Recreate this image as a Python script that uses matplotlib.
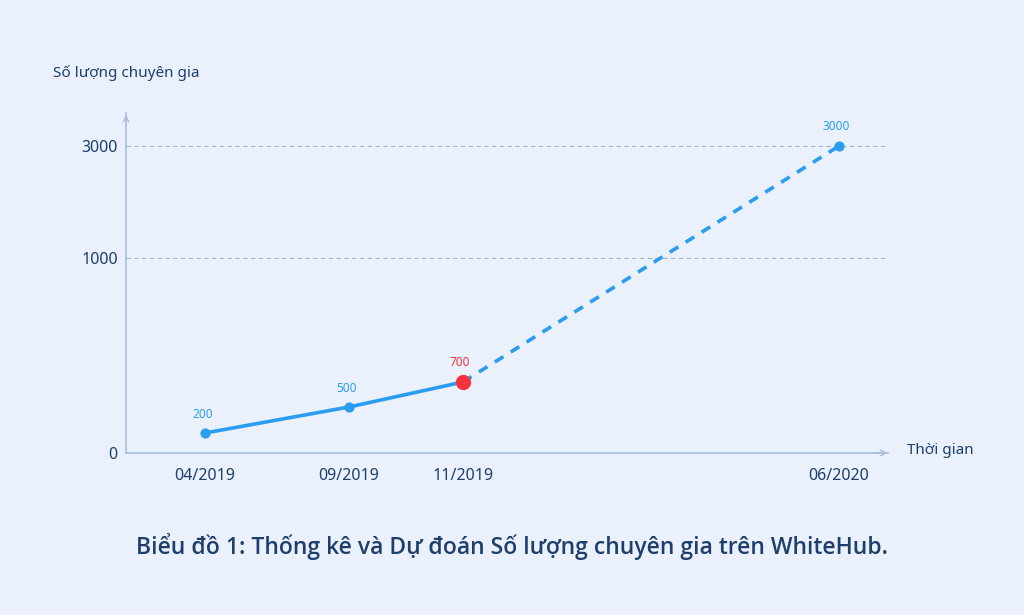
import matplotlib

matplotlib.use("Agg")

import matplotlib.pyplot as plt
import numpy as np

# data
periods = ["04/2019", "09/2019", "11/2019", "06/2020"]
experts = [200, 500, 700, 3000]
y_ticks = [0, 1000, 3000]
actual_count = 3  # first three are recorded, last one is forecast

# the source chart uses an uneven axis: map values onto pixel heights
y_knots = [0, 200, 500, 700, 1000, 3000, 3550]
y_pix = [0, 20, 46, 71, 195, 307, 340]
x_knots = [-0.55, 0, 1, 2, 3, 3.34]
x_pix = [0, 79, 223, 337, 713, 762]

BG = "#EAF1FD"
NAVY = "#1E3E6B"
BLUE = "#2A9DF0"
RED = "#F5333F"
AXIS = "#A9BEDA"

plt.rcParams["font.family"] = ["Noto Sans", "DejaVu Sans"]

fig = plt.figure(figsize=(10.24, 6.15), dpi=100, facecolor=BG)
ax = fig.add_axes([126 / 1024, 162 / 615, 762 / 1024, 340 / 615])
ax.set_facecolor(BG)


def fwd_y(v):
    return np.interp(v, y_knots, y_pix)


def inv_y(p):
    return np.interp(p, y_pix, y_knots)


def fwd_x(v):
    return np.interp(v, x_knots, x_pix)


def inv_x(p):
    return np.interp(p, x_pix, x_knots)


ax.set_yscale("function", functions=(fwd_y, inv_y))
ax.set_xscale("function", functions=(fwd_x, inv_x))
ax.set_ylim(y_knots[0], y_knots[-1])
ax.set_xlim(x_knots[0], x_knots[-1])

x = np.arange(len(periods))

for tick in y_ticks[1:]:
    ax.axhline(tick, color="#9FB4D0", linewidth=0.8, linestyle=(0, (4, 3)), zorder=1)

ax.plot(x[:actual_count], experts[:actual_count], color=BLUE, linewidth=2.6,
        solid_capstyle="round", zorder=3)
ax.plot(x[actual_count - 1:], experts[actual_count - 1:], color=BLUE,
        linewidth=2.6, dashes=(2.8, 2.4), zorder=3)
ax.scatter(x[:actual_count - 1], experts[:actual_count - 1], s=40, color=BLUE, zorder=4)
ax.scatter(x[-1:], experts[-1:], s=40, color=BLUE, zorder=4)
ax.scatter(x[actual_count - 1], experts[actual_count - 1], s=100, color=RED, zorder=5)

for i, value in enumerate(experts):
    color = RED if i == actual_count - 1 else BLUE
    ax.annotate(str(value), (x[i], value), xytext=(-2, 9), textcoords="offset points",
                ha="center", va="bottom", fontsize=8.5, color=color)

for side in ["top", "right"]:
    ax.spines[side].set_visible(False)
for side in ["left", "bottom"]:
    ax.spines[side].set_color(AXIS)
    ax.spines[side].set_linewidth(1.2)

ax.annotate("", xy=(1.003, 0), xycoords="axes fraction", xytext=(0.98, 0),
            arrowprops=dict(arrowstyle="->", color=AXIS, lw=1.0))
ax.annotate("", xy=(0, 1.003), xycoords="axes fraction", xytext=(0, 0.97),
            arrowprops=dict(arrowstyle="->", color=AXIS, lw=1.0))

ax.set_yticks(y_ticks)
ax.set_yticklabels([str(t) for t in y_ticks])
ax.set_xticks(x)
ax.set_xticklabels(periods)
ax.tick_params(axis="both", length=0, colors=NAVY, labelsize=11.5)
ax.tick_params(axis="x", pad=11)
ax.tick_params(axis="y", pad=6)
ax.minorticks_off()

fig.text(53 / 1024, 1 - 73 / 615, "Số lượng chuyên gia", fontsize=11, color=NAVY,
         ha="left", va="center")
fig.text(907 / 1024, 1 - 451 / 615, "Thời gian", fontsize=11, color=NAVY,
         ha="left", va="center")
fig.text(0.5, 1 - 546 / 615,
         "Biểu đồ 1: Thống kê và Dự đoán Số lượng chuyên gia trên WhiteHub.",
         fontsize=16.5, color=NAVY, ha="center", va="center", fontweight="semibold",
         family=["Open Sans", "Noto Sans", "DejaVu Sans"])

fig.savefig("out.png", dpi=100, facecolor=BG)
